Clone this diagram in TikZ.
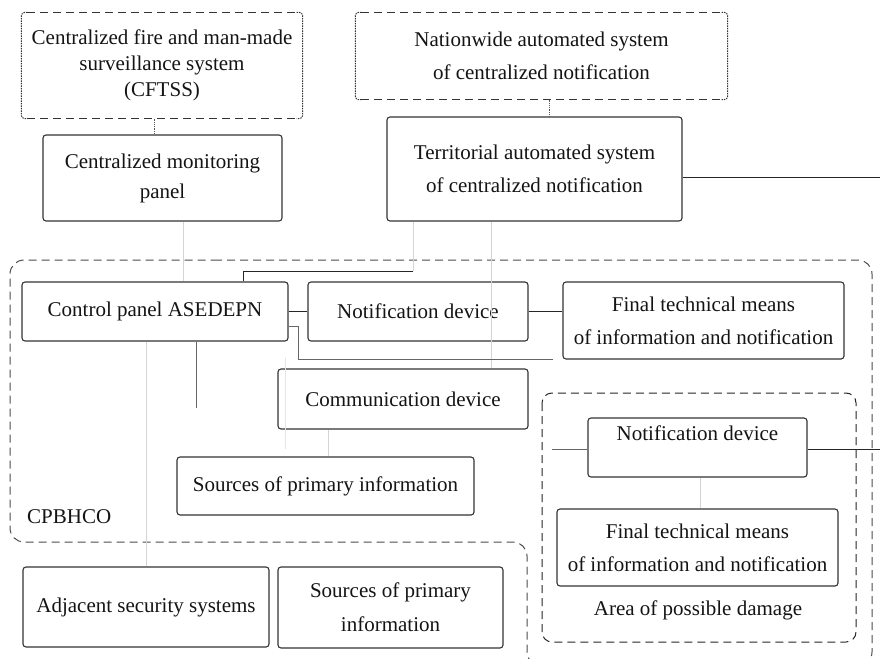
\documentclass[tikz,border=0pt]{standalone}
\usepackage{fontspec}
\setmainfont{Liberation Serif}
\begin{document}
\begin{tikzpicture}[x=1pt,y=-1pt,
  box/.style={draw=black!80, line width=1.1pt, rounded corners=3pt, align=center,
    text=black!92, inner sep=0pt, font=\fontsize{21}{33}\selectfont},
  conn/.style={black!85, line width=0.9pt},
  lite/.style={black!17, line width=0.8pt},
  xlite/.style={black!10, line width=0.8pt},
  mid/.style={black!60, line width=1pt},
  hdash/.style={black!80, line width=1pt, dash pattern=on 8pt off 5pt},
  vdash/.style={black!80, line width=1pt, dash pattern=on 1.5pt off 1pt, rounded corners=3pt},
  dotline/.style={black!65, line width=0.9pt, dash pattern=on 1pt off 0.8pt},
  region/.style={black!70, line width=1pt, dash pattern=on 8pt off 5pt, rounded corners=14pt},
  area/.style={black!85, line width=1pt, dash pattern=on 8pt off 5pt, rounded corners=10pt},
  lbl/.style={text=black!92, inner sep=0pt, font=\fontsize{21}{26}\selectfont}
]
\useasboundingbox (0,0) rectangle (880,658);
\fill[white] (0,0) rectangle (880,658);
\clip (0,0) rectangle (880,658);

% top dashed boxes
\node[box, draw=none, minimum width=280pt, minimum height=105pt,
  font=\fontsize{21}{26}\selectfont] (cftss) at (162,65.5)
  {Centralized fire and man-made\\surveillance system\\(CFTSS)};
\node[box, draw=none, minimum width=371pt, minimum height=86pt] (nat) at (541.5,56)
  {Nationwide automated system\\of centralized notification};
\foreach \n in {cftss,nat}{
  \draw[hdash] ([xshift=6pt]\n.north west) -- ([xshift=-6pt]\n.north east);
  \draw[hdash] ([xshift=6pt]\n.south west) -- ([xshift=-6pt]\n.south east);
  \draw[vdash] ([xshift=6pt]\n.north west) -- (\n.north west) -- (\n.south west) -- ([xshift=6pt]\n.south west);
  \draw[vdash] ([xshift=-6pt]\n.north east) -- (\n.north east) -- (\n.south east) -- ([xshift=-6pt]\n.south east);
}

% solid boxes
\node[box, minimum width=239pt, minimum height=86pt, font=\fontsize{21}{30}\selectfont] (mon) at (162.5,178)
  {Centralized monitoring\\panel};
\node[box, minimum width=295pt, minimum height=104pt] (terr) at (534.5,169)
  {Territorial automated system\\of centralized notification};
\node[box, minimum width=266pt, minimum height=59pt] (ctrl) at (155,311.5) {Control panel ASEDEPN};
\node[box, minimum width=220pt, minimum height=59pt] (notif) at (418,311.5) {Notification device};
\node[box, minimum width=281pt, minimum height=77pt] (final1) at (703.5,320.5)
  {Final technical means\\of information and notification};
\node[box, minimum width=250pt, minimum height=60pt] (comm) at (403,399) {Communication device};
\node[box, minimum width=297pt, minimum height=58pt] (src1) at (325.5,486) {Sources of primary information};
\node[box, minimum width=246pt, minimum height=80pt] (adj) at (146,607) {Adjacent security systems};
\node[box, minimum width=225pt, minimum height=81pt, font=\fontsize{21}{34}\selectfont] (src2) at (390.5,607.5)
  {Sources of primary\\information};
\node[box, minimum width=219pt, minimum height=59pt, font=\fontsize{21}{22}\selectfont] (notif2) at (697.5,447.5)
  {Notification device\\\strut};
\node[box, minimum width=281pt, minimum height=77pt] (final2) at (697.5,547.5)
  {Final technical means\\of information and notification};

% regions
\draw[region] (200,260) -- (872,260) -- (872,666) -- (527,666) -- (527,542) -- (10,542) -- (10,260) -- cycle;
\draw[area] (542,393) rectangle (856,642);
\node[lbl, anchor=west] (cp) at (27,517) {CPBHCO};
\node[lbl] (apd) at (698,610) {Area of possible damage};

% coordinates for free ends
\coordinate (j1) at (413,271);
\coordinate (j2) at (243,271);
\coordinate (s1) at (298,359);
\coordinate (s2) at (553,359);
\coordinate (t1) at (285,358);
\coordinate (t2) at (285,449);
\coordinate (u1) at (196,408);
\coordinate (w1) at (552,449);
\coordinate (e1) at (880,177);
\coordinate (e2) at (880,449);

% connectors
\draw[dotline] ([xshift=-8pt]cftss.south) -- ([xshift=-8pt]cftss.south |- mon.north);
\draw[dotline] ([xshift=7.5pt]nat.south) -- ([xshift=7.5pt]nat.south |- terr.north);
\draw[lite] ([xshift=20.5pt]mon.south) -- ([xshift=20.5pt]mon.south |- ctrl.north);
\draw[lite] (terr.south -| j1) -- (j1);
\draw[conn] (j1) -- (j2) -- (j2 |- ctrl.north);
\draw[lite] ([xshift=-43pt]terr.south) -- ([xshift=-43pt]terr.south |- comm.north);
\draw[conn] (terr.east |- e1) -- (e1);
\draw[conn] (ctrl.east) -- (notif.west);
\draw[conn] (notif.east) -- (notif.east -| final1.west);
\draw[mid] ([yshift=-14.5pt]ctrl.east) -| (s1) -- (s2);
\draw[xlite] (t1) -- (t2);
\draw[mid] (ctrl.south -| u1) -- (u1);
\draw[lite] ([xshift=-9pt]ctrl.south) -- ([xshift=-9pt]ctrl.south |- adj.north);
\draw[lite] ([xshift=-75pt]comm.south) -- ([xshift=-75pt]comm.south |- src1.north);
\draw[mid] (w1) -- (notif2.west |- w1);
\draw[conn] (notif2.east |- e2) -- (e2);
\draw[lite] ([xshift=2.5pt]notif2.south) -- ([xshift=2.5pt]notif2.south |- final2.north);
\end{tikzpicture}
\end{document}
